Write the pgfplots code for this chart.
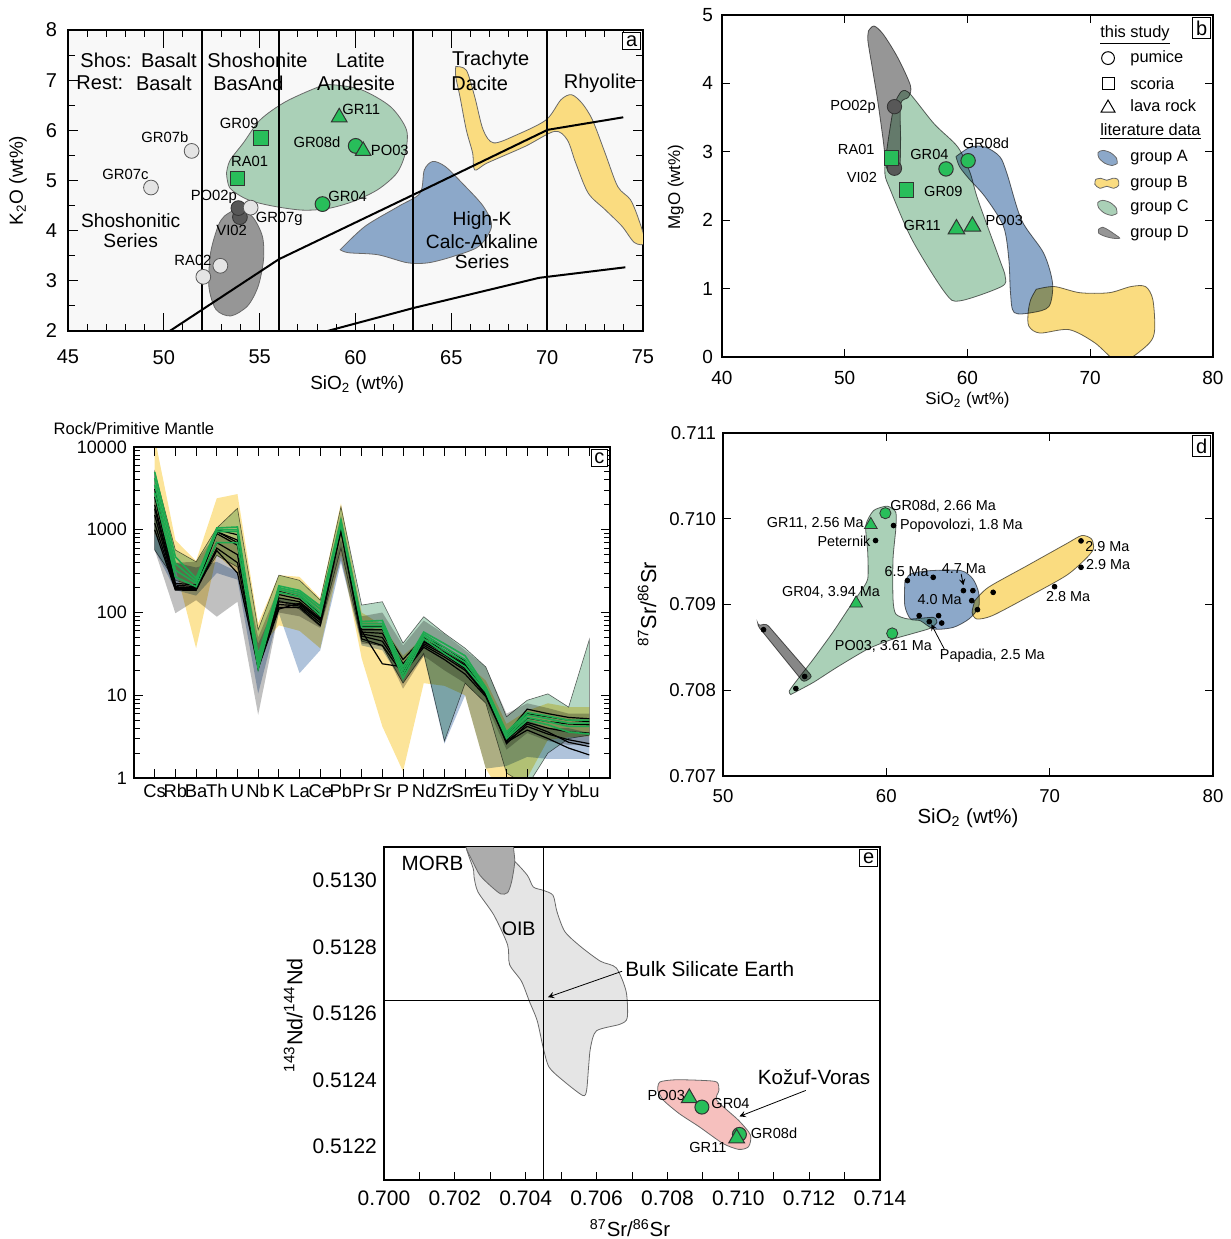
\documentclass[border=0pt]{standalone}
\usepackage{fontspec}
\setmainfont{Liberation Sans}
\usepackage{pgfplots}
\pgfplotsset{compat=1.18}
\definecolor{bgA}{RGB}{248,248,248}
\definecolor{grA}{RGB}{140,168,201}
\definecolor{grB}{RGB}{250,220,128}
\definecolor{grC}{RGB}{170,208,183}
\definecolor{grD}{RGB}{150,150,150}
\definecolor{mkG}{RGB}{40,190,90}
\definecolor{mkD}{RGB}{88,88,88}
\definecolor{mkL}{RGB}{228,228,228}
\definecolor{edge}{RGB}{105,105,105}
\definecolor{pinkK}{RGB}{246,192,190}
\definecolor{oib}{RGB}{229,229,229}
\definecolor{morb}{RGB}{172,172,172}
\definecolor{cA}{RGB}{110,145,190}
\definecolor{cB}{RGB}{250,212,90}
\definecolor{cC}{RGB}{105,175,135}
\definecolor{cD}{RGB}{140,140,140}
\definecolor{lnG}{RGB}{30,170,80}
\newcommand{\fs}[1]{\fontsize{#1}{#1}\selectfont}
\tikzset{boxlab/.style={draw=black, line width=0.5pt, fill=white, inner sep=1.6pt, anchor=north east, font=\fs{10}}}
\pgfplotsset{
  panel/.style={scale only axis, anchor=north west, axis line style={line width=0.75pt},
    tick style={black, line width=0.5pt}, tick align=inside,
    /pgf/number format/assume math mode=true, ticklabel style={font=\fs{9.5}},
    label style={font=\fs{9.5}}, scaled ticks=false},
  reg/.style={draw=edge, line width=0.4pt, smooth, tension=0.5},
  mult/.style={blend mode=multiply},
}
\begin{document}
\begin{tikzpicture}
\path[use as bounding box] (0,0) rectangle (615.5pt,-619.5pt);

%================ PANEL A
\begin{axis}[panel, at={(34pt,-15pt)}, width=287.5pt, height=150.5pt,
  xmin=45, xmax=75, ymin=2, ymax=8, xtick={45,50,...,75}, minor x tick num=4,
  ytick={2,3,...,8}, minor y tick num=1, major tick length=5pt, minor tick length=3.5pt,
  xtick style={/pgfplots/major tick length=9pt},
  ticklabel style={font=\fs{10}},
  xticklabel style={yshift=-6pt}, yticklabel style={xshift=-2pt},
  axis background/.style={fill=bgA},
  xlabel={SiO\textsubscript{2} (wt\%)}, ylabel={K\textsubscript{2}O (wt\%)},
  xlabel style={at={(axis description cs:0.503,-0.179)}, anchor=center},
  ylabel style={at={(axis description cs:-0.087,0.5)}, anchor=center}]
\addplot[reg, fill=grD] coordinates {(53.71,4.42)(54.59,4.29)(55.14,3.89)(55.20,3.42)(54.92,2.89)(54.37,2.50)(53.49,2.30)(52.72,2.43)(52.35,2.89)(52.44,3.56)(52.83,4.09)(53.16,4.29)(53.71,4.42)} --cycle;
\addplot[reg, fill=grC] coordinates {(53.27,5.15)(53.45,5.40)(54.15,5.75)(55.03,6.21)(56.35,6.57)(58.10,6.87)(58.76,6.91)(60.30,6.81)(61.83,6.47)(62.66,6.01)(62.60,5.55)(62.16,5.15)(61.17,4.82)(59.86,4.58)(58.54,4.44)(57.22,4.41)(55.69,4.49)(54.37,4.62)(53.45,4.85)(53.27,5.15)} --cycle;
\addplot[reg, fill=grA] coordinates {(59.20,3.62)(60.51,4.09)(62.27,4.49)(63.37,4.75)(63.59,5.21)(64.03,5.38)(64.68,5.28)(65.56,4.95)(66.66,4.49)(67.10,4.09)(66.44,3.69)(65.12,3.49)(63.81,3.36)(62.71,3.36)(61.17,3.52)(59.64,3.56)(59.20,3.62)} --cycle;
\addplot[reg, fill=grB] coordinates {(65.23,7.27)(65.78,7.20)(66.22,6.67)(66.66,6.01)(67.21,5.75)(68.41,5.91)(69.95,6.21)(70.72,6.61)(71.27,6.71)(71.82,6.54)(72.36,6.21)(73.02,5.55)(73.68,4.88)(74.34,4.62)(74.78,4.22)(75.11,3.76)(74.56,3.76)(73.90,4.09)(73.02,4.42)(72.14,4.75)(71.49,5.35)(71.05,5.81)(70.39,5.98)(68.85,5.68)(66.88,5.35)(66.22,5.21)(66.11,5.55)(65.78,6.01)(65.45,6.67)(65.23,7.07)(65.23,7.27)} --cycle;
\addplot[black, line width=1pt] coordinates {(50.31,2.0)(56,3.43)(63.04,4.72)(70.02,6.01)(73.97,6.26)};
\addplot[black, line width=1pt] coordinates {(58.54,2.0)(63.04,2.46)(69.58,3.06)(74.08,3.27)};
\addplot[black, line width=0.9pt] coordinates {(52,2)(52,8)};
\addplot[black, line width=0.9pt] coordinates {(56,2)(56,8)};
\addplot[black, line width=0.9pt] coordinates {(63,2)(63,8)};
\addplot[black, line width=0.9pt] coordinates {(70,2)(70,8)};
\addplot[only marks, mark=*, mark size=3.7pt, mark options={fill=mkL, draw=black!65, line width=0.4pt}] coordinates {(51.45,5.59)(49.33,4.86)(52.95,3.30)(52.06,3.08)};
\addplot[only marks, mark=*, mark size=3.7pt, mark options={fill=mkD, draw=black!80, line width=0.4pt}] coordinates {(53.97,4.27)(53.89,4.45)};
\addplot[only marks, mark=*, mark size=3.7pt, mark options={fill=mkL, draw=black!65, line width=0.4pt}] coordinates {(54.53,4.46)};
\addplot[only marks, mark=square*, mark size=3.6pt, mark options={fill=mkG, draw=black!80, line width=0.5pt}] coordinates {(55.07,5.85)(53.83,5.04)};
\addplot[only marks, mark=*, mark size=3.7pt, mark options={fill=mkG, draw=black!80, line width=0.5pt}] coordinates {(60.01,5.69)(58.28,4.53)};
\addplot[only marks, mark=triangle*, mark size=4.5pt, mark options={fill=mkG, draw=black!80, line width=0.5pt}] coordinates {(59.15,6.26)(60.40,5.59)};
\node[font=\fs{10}, anchor=west, inner sep=0pt] at (axis cs:45.63,7.39) {Shos:};
\node[font=\fs{10}, anchor=east, inner sep=0pt] at (axis cs:51.73,7.39) {Basalt};
\node[font=\fs{10}, anchor=west, inner sep=0pt] at (axis cs:45.42,6.94) {Rest:};
\node[font=\fs{10}, anchor=east, inner sep=0pt] at (axis cs:51.47,6.94) {Basalt};
\node[font=\fs{10}] at (axis cs:54.88,7.39) {Shoshonite};
\node[font=\fs{10}] at (axis cs:54.41,6.94) {BasAnd};
\node[font=\fs{10}] at (axis cs:60.25,7.39) {Latite};
\node[font=\fs{10}] at (axis cs:60.03,6.94) {Andesite};
\node[font=\fs{10}] at (axis cs:67.05,7.39) {Trachyte};
\node[font=\fs{10}] at (axis cs:66.48,6.94) {Dacite};
\node[font=\fs{10}] at (axis cs:72.76,6.94) {Rhyolite};
\node[font=\fs{9.6}] at (axis cs:48.27,4.20) {Shoshonitic};
\node[font=\fs{9.6}] at (axis cs:48.27,3.80) {Series};
\node[font=\fs{9.6}] at (axis cs:66.6,4.20) {High-K};
\node[font=\fs{9.6}] at (axis cs:66.6,3.79) {Calc-Alkaline};
\node[font=\fs{9.6}] at (axis cs:66.6,3.38) {Series};
\node[font=\fs{7.4}] at (axis cs:50.05,5.86) {GR07b};
\node[font=\fs{7.4}] at (axis cs:48.0,5.12) {GR07c};
\node[font=\fs{7.4}] at (axis cs:53.93,6.14) {GR09};
\node[font=\fs{7.4}] at (axis cs:54.48,5.38) {RA01};
\node[font=\fs{7.4}] at (axis cs:52.61,4.68) {PO02p};
\node[font=\fs{7.4}] at (axis cs:56.02,4.23) {GR07g};
\node[font=\fs{7.4}] at (axis cs:53.54,4.01) {VI02};
\node[font=\fs{7.4}] at (axis cs:51.52,3.41) {RA02};
\node[font=\fs{7.4}] at (axis cs:60.30,6.42) {GR11};
\node[font=\fs{7.4}] at (axis cs:57.99,5.76) {GR08d};
\node[font=\fs{7.4}] at (axis cs:61.79,5.60) {PO03};
\node[font=\fs{7.4}] at (axis cs:59.59,4.68) {GR04};
\node[boxlab] at (rel axis cs:1,1) [xshift=-1pt, yshift=-1pt] {a};
\end{axis}

%================ PANEL B
\begin{axis}[panel, at={(361pt,-7.5pt)}, width=245.5pt, height=171pt,
  xmin=40, xmax=80, ymin=0, ymax=5, xtick={40,50,...,80}, ytick={0,1,...,5},
  major tick length=4pt, label style={font=\fs{8.5}},
  xticklabel style={yshift=-3.5pt}, yticklabel style={xshift=-1pt},
  xlabel={SiO\textsubscript{2} (wt\%)}, ylabel={MgO (wt\%)},
  xlabel style={at={(axis description cs:0.5,-0.126)}, anchor=center},
  ylabel style={at={(axis description cs:-0.094,0.497)}, anchor=center}]
\addplot[reg, fill=grD, mult] coordinates {(51.94,4.77)(52.38,4.84)(53.13,4.72)(54.31,4.38)(55.35,3.97)(55.20,3.80)(54.55,3.70)(54.55,3.17)(54.46,2.73)(53.96,2.66)(53.42,2.76)(53.13,3.17)(52.68,3.75)(52.23,4.24)(51.88,4.63)(51.94,4.77)} --cycle;
\addplot[reg, fill=grC, mult] coordinates {(54.55,3.87)(55.20,3.87)(57.28,3.41)(59.21,3.07)(60.20,2.70)(60.85,2.30)(62.63,1.42)(63.07,1.18)(62.78,1.03)(59.36,0.82)(58.17,0.94)(55.50,1.71)(53.72,2.44)(53.27,2.68)(53.42,3.02)(54.0,3.66)(54.55,3.87)} --cycle;
\addplot[reg, fill=grA, mult] coordinates {(59.06,2.93)(60.25,3.07)(61.44,3.07)(62.63,2.93)(63.22,2.68)(64.41,2.0)(66.2,1.52)(66.93,1.08)(66.64,0.74)(65.3,0.65)(63.8,0.65)(63.5,0.94)(63.37,1.42)(62.93,1.91)(61.44,2.34)(60.1,2.61)(59.36,2.78)(59.06,2.93)} --cycle;
\addplot[reg, fill=grB, mult] coordinates {(65.6,0.99)(67.08,1.03)(69.16,0.94)(71.54,0.94)(73.32,1.03)(74.5,1.03)(75.1,0.84)(75.25,0.40)(74.8,0.20)(73.0,-0.05)(72.0,-0.05)(70.35,0.21)(68.27,0.40)(65.9,0.35)(65.0,0.45)(64.94,0.65)(65.15,0.84)(65.6,0.99)} --cycle;
\addplot[only marks, mark=*, mark size=3.6pt, mark options={fill=mkD, draw=black!80, line width=0.4pt}] coordinates {(54.05,3.66)(54.05,2.76)};
\addplot[only marks, mark=square*, mark size=3.6pt, mark options={fill=mkG, draw=black!80, line width=0.5pt}] coordinates {(53.8,2.91)(55.05,2.44)};
\addplot[only marks, mark=*, mark size=3.6pt, mark options={fill=mkG, draw=black!80, line width=0.5pt}] coordinates {(58.25,2.75)(60.05,2.87)};
\addplot[only marks, mark=triangle*, mark size=4.8pt, mark options={fill=mkG, draw=black!80, line width=0.5pt}] coordinates {(59.1,1.87)(60.4,1.91)};
\node[font=\fs{7.3}, anchor=east] at (axis cs:53.1,3.66) {PO02p};
\node[font=\fs{7.3}, anchor=east] at (axis cs:53.0,3.03) {RA01};
\node[font=\fs{7.3}, anchor=east] at (axis cs:53.2,2.63) {VI02};
\node[font=\fs{7.3}] at (axis cs:56.9,2.96) {GR04};
\node[font=\fs{7.3}] at (axis cs:61.5,3.12) {GR08d};
\node[font=\fs{7.3}, anchor=west] at (axis cs:55.9,2.42) {GR09};
\node[font=\fs{7.3}, anchor=east] at (axis cs:58.4,1.92) {GR11};
\node[font=\fs{7.3}, anchor=west] at (axis cs:60.9,2.0) {PO03};
% legend
\node[font=\fs{8.2}, anchor=west, inner sep=0pt] at (axis cs:70.79,4.71) {\underline{this study}};
\addplot[only marks, mark=o, mark size=3.2pt, mark options={draw=black, line width=0.5pt}] coordinates {(71.45,4.37)};
\addplot[only marks, mark=square, mark size=3.0pt, mark options={draw=black, line width=0.5pt}] coordinates {(71.45,4.00)};
\addplot[only marks, mark=triangle, mark size=4.0pt, mark options={draw=black, line width=0.5pt}] coordinates {(71.45,3.64)};
\node[font=\fs{8.2}, anchor=west, inner sep=0pt] at (axis cs:73.24,4.37) {pumice};
\node[font=\fs{8.2}, anchor=west, inner sep=0pt] at (axis cs:73.24,4.00) {scoria};
\node[font=\fs{8.2}, anchor=west, inner sep=0pt] at (axis cs:73.24,3.67) {lava rock};
\node[font=\fs{8.2}, anchor=west, inner sep=0pt] at (axis cs:70.79,3.29) {\underline{literature data}};
\addplot[reg, fill=grA] coordinates {(72.196,2.8296)(71.796,2.7995)(71.176,2.834)(70.699,2.9132)(70.644,2.9904)(71.044,3.0205)(71.664,2.986)(72.141,2.9068)(72.196,2.8296)} --cycle;
\addplot[reg, fill=grB] coordinates {(70.454,2.598)(70.861,2.613)(71.35,2.584)(71.839,2.613)(72.246,2.598)(72.328,2.511)(71.92,2.467)(71.35,2.496)(70.78,2.467)(70.372,2.525)(70.454,2.598)} --cycle;
\addplot[reg, fill=grC] coordinates {(72.176,2.0996)(71.776,2.0695)(71.156,2.104)(70.679,2.1832)(70.624,2.2604)(71.024,2.2905)(71.644,2.256)(72.121,2.1768)(72.176,2.0996)} --cycle;
\addplot[reg, fill=grD] coordinates {(70.685,1.868)(71.011,1.898)(71.5,1.854)(71.989,1.795)(72.396,1.737)(71.826,1.737)(71.174,1.766)(70.685,1.81)(70.685,1.868)} --cycle;
\node[font=\fs{8.2}, anchor=west, inner sep=0pt] at (axis cs:73.24,2.91) {group A};
\node[font=\fs{8.2}, anchor=west, inner sep=0pt] at (axis cs:73.24,2.54) {group B};
\node[font=\fs{8.2}, anchor=west, inner sep=0pt] at (axis cs:73.24,2.18) {group C};
\node[font=\fs{8.2}, anchor=west, inner sep=0pt] at (axis cs:73.24,1.81) {group D};
\node[boxlab] at (rel axis cs:1,1) [xshift=-1pt, yshift=-1pt] {b};
\end{axis}

%================ PANEL C
\begin{axis}[panel, at={(67pt,-223.5pt)}, width=238pt, height=165.5pt,
  xmin=-1, xmax=22, ymode=log, ymin=1, ymax=10000,
  xtick={0,...,21}, xticklabels={Cs,Rb,Ba,Th,U,Nb,K,La,Ce,Pb,Pr,Sr,P,Nd,Zr,Sm,Eu,Ti,Dy,Y,Yb,Lu},
  ytick={1,10,100,1000,10000}, yticklabels={1,10,100,1000,10000},
  major tick length=4.5pt, minor tick length=3pt, ticklabel style={font=\fs{9}},
  xticklabel style={font=\fs{9.2}, inner sep=1pt, yshift=-2pt},
  ylabel={Rock/Primitive Mantle},
  ylabel style={rotate=-90, at={(axis description cs:0,1.057)}, anchor=center, font=\fs{8.3}}]
\addplot[draw=none, fill=cD, fill opacity=0.55, mult] coordinates {(0,3000)(1,400)(2,410)(3,900)(4,700)(5,50)(6,200)(7,180)(8,120)(9,1500)(10,90)(11,100)(12,40)(13,80)(14,55)(15,35)(16,22)(17,6)(18,8)(19,7)(20,6)(21,6)(21,2.5)(20,2.5)(19,2.8)(18,3.5)(17,2.2)(16,8)(15,14)(14,20)(13,30)(12,12)(11,40)(10,42)(9,430)(8,65)(7,90)(6,100)(5,5.8)(4,135)(3,89)(2,141)(1,98)(0,570)} --cycle;
\addplot[draw=none, fill=cA, fill opacity=0.55, mult] coordinates {(0,1740)(1,400)(2,350)(3,410)(4,310)(5,42)(6,150)(7,130)(8,90)(9,760)(10,70)(11,60)(12,22)(13,45)(14,32)(15,22)(16,10)(17,3)(18,5)(19,4)(20,4)(21,3.5)(21,1.7)(20,1.7)(19,1.7)(18,1.8)(17,1.4)(16,1.3)(15,10)(14,2.6)(13,30)(12,14)(11,35)(10,40)(9,400)(8,35)(7,18.5)(6,98)(5,10.5)(4,250)(3,300)(2,160)(1,187)(0,570)} --cycle;
\addplot[draw=none, fill=cB, fill opacity=0.62, mult] coordinates {(0,13000)(1,750)(2,420)(3,2400)(4,2700)(5,74)(6,283)(7,270)(8,148)(9,2090)(10,100)(11,70)(12,30)(13,50)(14,35)(15,25)(16,15)(17,4.5)(18,6.5)(19,8)(20,7.2)(21,7.2)(21,3.2)(20,3.1)(19,2.9)(18,1.0)(17,0.5)(16,1.3)(15,10)(14,13)(13,14)(12,1.2)(11,4.2)(10,28)(9,500)(8,37)(7,60)(6,70)(5,35)(4,300)(3,500)(2,37)(1,350)(0,900)} --cycle;
\addplot[draw=edge, line width=0.3pt, fill=cC, fill opacity=0.5, mult] coordinates {(0,5000)(1,570)(2,410)(3,1050)(4,1820)(5,62)(6,283)(7,245)(8,141)(9,1900)(10,123)(11,135)(12,42.6)(13,89)(14,56)(15,37)(16,22)(17,5.5)(18,8.7)(19,10.4)(20,7.2)(21,47)(21,3.3)(20,3)(19,2.0)(18,0.8)(17,1.15)(16,8)(15,14)(14,2.8)(13,32)(12,14)(11,39)(10,45)(9,600)(8,68)(7,110)(6,141)(5,20)(4,355)(3,490)(2,204)(1,245)(0,570)} --cycle;
% black lines
\addplot[black, line width=0.6pt] coordinates {(0,3100)(1,225)(2,215)(3,1000)(4,870)(5,28)(6,180)(7,155)(8,98)(9,1200)(10,68)(11,68)(12,27)(13,50)(14,38)(15,26)(16,11.5)(17,3.4)(18,6.8)(19,6.0)(20,5.4)(21,5.2)};
\addplot[black, line width=0.6pt] coordinates {(0,2500)(1,215)(2,205)(3,950)(4,750)(5,26)(6,165)(7,145)(8,90)(9,1150)(10,62)(11,62)(12,24)(13,47)(14,35)(15,24)(16,11)(17,3.2)(18,6.0)(19,5.5)(20,5.0)(21,4.8)};
\addplot[black, line width=0.6pt] coordinates {(0,2000)(1,205)(2,200)(3,900)(4,650)(5,25)(6,150)(7,135)(8,85)(9,1100)(10,58)(11,56)(12,22)(13,44)(14,33)(15,22)(16,10.5)(17,3.0)(18,5.3)(19,4.8)(20,4.5)(21,4.4)};
\addplot[black, line width=0.6pt] coordinates {(0,1500)(1,195)(2,195)(3,700)(4,500)(5,24)(6,135)(7,125)(8,80)(9,1050)(10,55)(11,50)(12,20)(13,42)(14,31)(15,21)(16,10)(17,2.9)(18,4.7)(19,4.0)(20,3.6)(21,3.5)};
\addplot[black, line width=0.6pt] coordinates {(0,1200)(1,190)(2,190)(3,600)(4,400)(5,23)(6,125)(7,120)(8,75)(9,1000)(10,52)(11,45)(12,19)(13,40)(14,29)(15,20)(16,10)(17,2.8)(18,4.2)(19,3.4)(20,2.9)(21,2.6)};
\addplot[black, line width=0.6pt] coordinates {(0,1000)(1,187)(2,185)(3,560)(4,300)(5,22)(6,115)(7,115)(8,70)(9,950)(10,48)(11,40)(12,18)(13,38)(14,27)(15,18)(16,9.6)(17,2.7)(18,3.8)(19,3.0)(20,2.3)(21,1.9)};
\addplot[black, line width=0.6pt] coordinates {(0,1800)(1,200)(2,200)(3,950)(4,700)(5,21)(6,110)(7,130)(8,82)(9,1050)(10,60)(11,24)(12,22)(13,45)(14,33)(15,23)(16,11)(17,2.6)(18,4.5)(19,3.6)(20,2.7)(21,2.4)};
% green lines
\addplot[lnG, line width=0.8pt] coordinates {(0,5000)(1,470)(2,260)(3,1050)(4,1080)(5,30)(6,210)(7,185)(8,120)(9,1300)(10,78)(11,80)(12,22)(13,58)(14,42)(15,30)(16,12.5)(17,3.6)(18,6.2)(19,5.6)(20,5.0)(21,5.0)};
\addplot[lnG, line width=0.8pt] coordinates {(0,4200)(1,390)(2,240)(3,1000)(4,1000)(5,27)(6,200)(7,175)(8,110)(9,1250)(10,74)(11,74)(12,20)(13,55)(14,38)(15,27)(16,12)(17,3.4)(18,5.8)(19,5.2)(20,4.6)(21,4.6)};
\addplot[lnG, line width=0.8pt] coordinates {(0,3500)(1,325)(2,225)(3,950)(4,950)(5,24)(6,190)(7,165)(8,100)(9,1200)(10,70)(11,70)(12,18)(13,52)(14,35)(15,25)(16,11.5)(17,3.2)(18,5.4)(19,4.8)(20,4.2)(21,4.2)};
\addplot[lnG, line width=0.8pt] coordinates {(0,2800)(1,270)(2,205)(3,700)(4,700)(5,21)(6,175)(7,155)(8,92)(9,1150)(10,66)(11,66)(12,16)(13,48)(14,32)(15,22)(16,11)(17,3.0)(18,5.0)(19,4.4)(20,3.6)(21,3.4)};
\node[boxlab] at (rel axis cs:1,1) [xshift=-1pt, yshift=-1pt] {c};
\end{axis}

%================ PANEL D
\begin{axis}[panel, at={(361.5pt,-216.5pt)}, width=245pt, height=171.5pt,
  xmin=50, xmax=80, ymin=0.707, ymax=0.711, xtick={50,60,70,80},
  ytick={0.707,0.708,0.709,0.710,0.711}, yticklabels={0.707,0.708,0.709,0.710,0.711},
  major tick length=4pt, ticklabel style={font=\fs{9.3}}, label style={font=\fs{10.2}},
  xticklabel style={yshift=-3pt},
  xlabel={SiO\textsubscript{2} (wt\%)}, ylabel={\textsuperscript{87}Sr/\textsuperscript{86}Sr},
  xlabel style={at={(axis description cs:0.5,-0.122)}, anchor=center},
  ylabel style={at={(axis description cs:-0.155,0.5)}, anchor=center, font=\fs{10.8}}]
\addplot[draw=edge, line width=0.4pt, fill=grD!90!black, rounded corners=1.5pt, mult] coordinates {(52.12,0.708753)(52.67,0.708776)(55.48,0.708157)(54.93,0.708091)(52.12,0.708753)} --cycle;
\addplot[reg, tension=0.4, fill=grC, mult] coordinates {(54.15,0.707950)(55.53,0.708091)(56.96,0.708266)(58.86,0.708480)(60.29,0.708589)(61.72,0.708667)(62.68,0.708722)(63.10,0.708792)(62.87,0.708850)(61.36,0.708831)(60.58,0.708889)(60.41,0.709064)(60.41,0.709532)(60.58,0.709882)(60.58,0.710077)(60.05,0.710147)(59.22,0.710096)(58.74,0.709921)(58.86,0.709609)(58.86,0.709298)(58.39,0.709142)(57.67,0.708947)(56.72,0.708675)(55.53,0.708363)(54.58,0.708130)(54.05,0.707990)(54.15,0.707950)} --cycle;
\addplot[reg, tension=0.45, fill=grA, mult] coordinates {(61.13,0.709259)(61.48,0.709356)(62.68,0.709395)(64.58,0.709395)(65.30,0.709298)(65.65,0.709142)(65.65,0.708967)(65.06,0.708831)(64.10,0.708733)(62.91,0.708714)(62.08,0.708811)(61.48,0.708831)(61.13,0.708986)(61.13,0.709259)} --cycle;
\addplot[reg, tension=0.45, fill=grB, mult] coordinates {(65.42,0.709045)(66.25,0.709201)(68.63,0.709454)(71.01,0.709707)(71.96,0.709804)(72.56,0.709765)(72.68,0.709649)(72.20,0.709532)(71.01,0.709337)(68.63,0.709084)(66.49,0.708870)(65.54,0.708831)(65.25,0.708908)(65.42,0.709045)} --cycle;
\addplot[only marks, mark=*, mark size=1.2pt, black] coordinates {(52.48,0.708706)(55.0,0.708161)(54.46,0.708020)(59.34,0.709746)(60.44,0.709921)(61.29,0.709279)(62.87,0.709317)(64.72,0.709162)(65.30,0.709162)(65.23,0.709045)(62.01,0.708870)(62.63,0.708800)(63.20,0.708870)(63.39,0.708784)(65.58,0.708940)(66.54,0.709142)(70.30,0.709208)(71.92,0.709434)(71.92,0.709742)};
\addplot[only marks, mark=*, mark size=2.8pt, mark options={fill=mkG, draw=black!80, line width=0.4pt}] coordinates {(59.94,0.710065)(60.36,0.708663)};
\addplot[only marks, mark=triangle*, mark size=3.7pt, mark options={fill=mkG, draw=black!80, line width=0.4pt}] coordinates {(59.05,0.709929)(58.15,0.709014)};
\addplot[-stealth, line width=0.4pt] coordinates {(63.55,0.708480)(62.75,0.708770)};
\addplot[-stealth, line width=0.4pt] coordinates {(64.58,0.709356)(64.72,0.709225)};
\node[font=\fs{7.2}, anchor=west, inner sep=0pt] at (axis cs:60.22,0.710147) {GR08d, 2.66 Ma};
\node[font=\fs{7.2}, anchor=east, inner sep=0pt] at (axis cs:58.63,0.709941) {GR11, 2.56 Ma};
\node[font=\fs{7.2}, anchor=west, inner sep=0pt] at (axis cs:60.82,0.709921) {Popovolozi, 1.8 Ma};
\node[font=\fs{7.2}, anchor=east, inner sep=0pt] at (axis cs:59.05,0.709742) {Peternik};
\node[font=\fs{7.2}] at (axis cs:61.25,0.709384) {6.5 Ma};
\node[font=\fs{7.2}] at (axis cs:64.75,0.709423) {4.7 Ma};
\node[font=\fs{7.2}] at (axis cs:63.27,0.709053) {4.0 Ma};
\node[font=\fs{7.2}, anchor=west, inner sep=0pt] at (axis cs:72.16,0.709680) {2.9 Ma};
\node[font=\fs{7.2}, anchor=west, inner sep=0pt] at (axis cs:72.21,0.709462) {2.9 Ma};
\node[font=\fs{7.2}] at (axis cs:71.13,0.709092) {2.8 Ma};
\node[font=\fs{7.2}, anchor=east, inner sep=0pt] at (axis cs:59.63,0.709142) {GR04, 3.94 Ma};
\node[font=\fs{7.2}] at (axis cs:59.82,0.708507) {PO03, 3.61 Ma};
\node[font=\fs{7.2}] at (axis cs:66.49,0.708402) {Papadia, 2.5 Ma};
\node[boxlab] at (rel axis cs:1,1) [xshift=-1pt, yshift=-1pt] {d};
\end{axis}

%================ PANEL E
\begin{axis}[panel, at={(192pt,-423.5pt)}, width=248pt, height=166.5pt,
  xmin=0.700, xmax=0.714, ymin=0.5121, ymax=0.5131,
  xtick={0.700,0.702,0.704,0.706,0.708,0.710,0.712,0.714},
  xticklabels={0.700,0.702,0.704,0.706,0.708,0.710,0.712,0.714},
  minor xtick={0.701,0.703,0.705,0.707,0.709,0.711,0.713},
  ytick={0.5122,0.5124,0.5126,0.5128,0.5130},
  yticklabels={0.5122,0.5124,0.5126,0.5128,0.5130},
  xtick pos=left, ytick pos=left, ytick style={draw=none},
  major tick length=4pt, minor tick length=4pt,
  ticklabel style={font=\fs{10.5}}, label style={font=\fs{10.2}},
  xticklabel style={yshift=-2pt},
  xlabel={\textsuperscript{87}Sr/\textsuperscript{86}Sr}, ylabel={\textsuperscript{143}Nd/\textsuperscript{144}Nd},
  xlabel style={at={(axis description cs:0.496,-0.144)}, anchor=center},
  ylabel style={at={(axis description cs:-0.183,0.495)}, anchor=center, font=\fs{10.8}}]
\addplot[reg, tension=0.45, fill=oib] coordinates {(0.702319,0.51315)(0.702319,0.513099)(0.702519,0.513035)(0.702542,0.513010)(0.702653,0.512965)(0.703099,0.512896)(0.703489,0.512806)(0.703545,0.512747)(0.703879,0.512697)(0.704102,0.512637)(0.704325,0.512578)(0.704492,0.512498)(0.704659,0.512439)(0.705050,0.512399)(0.705607,0.512354)(0.705718,0.512369)(0.705774,0.512439)(0.705830,0.512498)(0.705997,0.512548)(0.706666,0.512568)(0.706867,0.512588)(0.706833,0.512667)(0.706555,0.512737)(0.706109,0.512757)(0.705551,0.512801)(0.705105,0.512846)(0.704882,0.512906)(0.704771,0.512955)(0.704492,0.512970)(0.704214,0.512980)(0.704046,0.513015)(0.703656,0.513060)(0.703155,0.513099)(0.703155,0.51315)} --cycle;
\addplot[reg, tension=0.45, fill=morb] coordinates {(0.702319,0.51315)(0.702319,0.513099)(0.702486,0.513060)(0.702709,0.513015)(0.703043,0.512980)(0.703300,0.512959)(0.703489,0.512963)(0.703600,0.512995)(0.703690,0.513055)(0.703656,0.513099)(0.703656,0.51315)} --cycle;
\addplot[reg, tension=0.45, fill=pinkK] coordinates {(0.707725,0.512369)(0.707781,0.512394)(0.708227,0.512401)(0.709007,0.512399)(0.709397,0.512394)(0.709453,0.512369)(0.709397,0.512339)(0.710010,0.512279)(0.710344,0.512235)(0.710289,0.512200)(0.710010,0.512192)(0.709564,0.512210)(0.708896,0.512260)(0.708338,0.512299)(0.707892,0.512339)(0.707725,0.512369)} --cycle;
\addplot[black, line width=0.5pt] coordinates {(0.7045,0.5121)(0.7045,0.5131)};
\addplot[black, line width=0.5pt] coordinates {(0.700,0.51264)(0.714,0.51264)};
\addplot[-stealth, line width=0.4pt] coordinates {(0.706722,0.512727)(0.704626,0.512649)};
\addplot[-stealth, line width=0.4pt] coordinates {(0.711905,0.512369)(0.710032,0.512291)};
\addplot[only marks, mark=triangle*, mark size=4.6pt, mark options={fill=mkG, draw=black!80, line width=0.5pt}] coordinates {(0.708617,0.512346)};
\addplot[only marks, mark=*, mark size=3.5pt, mark options={fill=mkG, draw=black!80, line width=0.5pt}] coordinates {(0.708973,0.512319)(0.710032,0.512237)};
\addplot[only marks, mark=triangle*, mark size=4.6pt, mark options={fill=mkG, draw=black!80, line width=0.5pt}] coordinates {(0.709954,0.512225)};
\node[font=\fs{10.3}] at (axis cs:0.701371,0.513050) {MORB};
\node[font=\fs{9.8}] at (axis cs:0.703801,0.512856) {OIB};
\node[font=\fs{10.4}, anchor=west, inner sep=0pt] at (axis cs:0.706800,0.512734) {Bulk Silicate Earth};
\node[font=\fs{10.3}, anchor=west, inner sep=0pt] at (axis cs:0.710545,0.512409) {Kožuf-Voras};
\node[font=\fs{7.3}, anchor=east, inner sep=0pt] at (axis cs:0.708505,0.512354) {PO03};
\node[font=\fs{7.3}, anchor=west, inner sep=0pt] at (axis cs:0.709230,0.512329) {GR04};
\node[font=\fs{7.3}, anchor=west, inner sep=0pt] at (axis cs:0.710344,0.512240) {GR08d};
\node[font=\fs{7.3}, anchor=east, inner sep=0pt] at (axis cs:0.709676,0.512197) {GR11};
\node[boxlab] at (rel axis cs:1,1) [xshift=-1pt, yshift=-1pt] {e};
\end{axis}
\end{tikzpicture}
\end{document}
